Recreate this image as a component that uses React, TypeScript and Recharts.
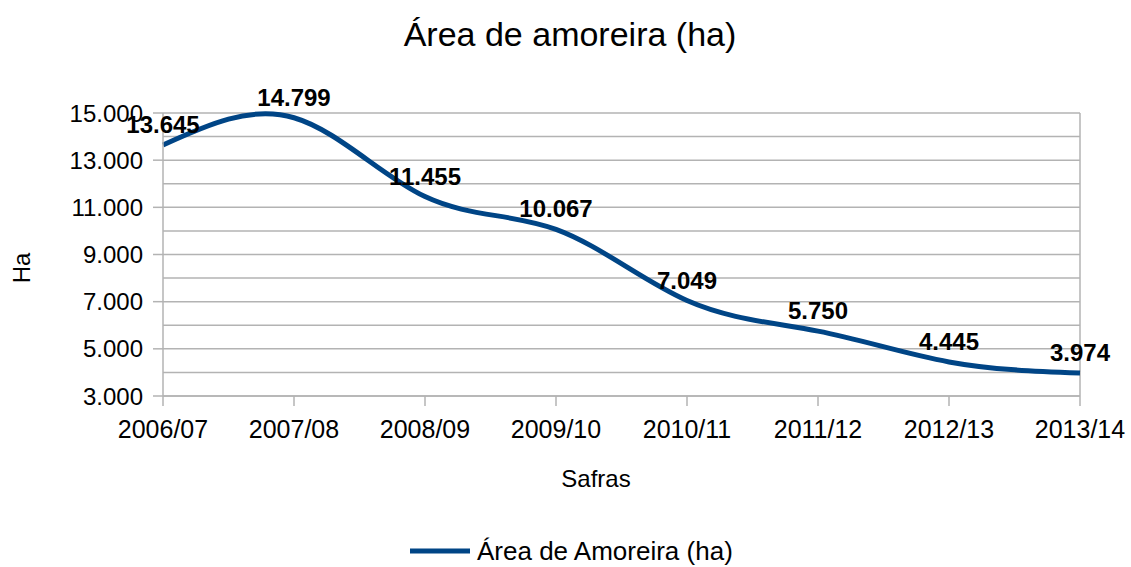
import { LineChart, Line, XAxis, YAxis, CartesianGrid, LabelList, ReferenceLine } from "recharts";

const safras = ["2006/07", "2007/08", "2008/09", "2009/10", "2010/11", "2011/12", "2012/13", "2013/14"];
const area = [13645, 14799, 11455, 10067, 7049, 5750, 4445, 3974];
const yTicks = [3000, 5000, 7000, 9000, 11000, 13000, 15000];
const gridValues = [3000, 4000, 5000, 6000, 7000, 8000, 9000, 10000, 11000, 12000, 13000, 14000, 15000];

const dados = safras.map((s, i) => ({ safra: s, area: area[i] }));

const font = "'Liberation Sans', Arial, sans-serif";
const gray = "#b3b3b3";
const blue = "#004586";

const fmt = (v: number) => v.toLocaleString("de-DE");

export default function App() {
  return (
    <div style={{ position: "absolute", left: 0, top: 0, width: 1131, height: 567, background: "#fff", fontFamily: font }}>
      <div style={{ position: "absolute", left: 570, top: 34, transform: "translate(-50%, -50%)", whiteSpace: "nowrap", fontSize: 34, color: "#000" }}>
        Área de amoreira (ha)
      </div>
      <LineChart width={1131} height={567} data={dados} margin={{ top: 113, right: 51, bottom: 131, left: 0 }}>
        <CartesianGrid stroke={gray} strokeWidth={1.5} vertical={false} horizontalValues={gridValues} />
        <XAxis
          dataKey="safra"
          height={40}
          tick={{ fill: "#000", fontSize: 25, fontFamily: font }}
          tickSize={10}
          tickMargin={14}
          axisLine={{ stroke: gray, strokeWidth: 1.5 }}
          tickLine={{ stroke: gray, strokeWidth: 1.5 }}
        />
        <YAxis
          width={163}
          domain={[3000, 15000]}
          ticks={yTicks}
          tickFormatter={fmt}
          tick={{ fill: "#000", fontSize: 24, fontFamily: font }}
          tickSize={10}
          tickMargin={10}
          axisLine={{ stroke: gray, strokeWidth: 1.5 }}
          tickLine={{ stroke: gray, strokeWidth: 1.5 }}
        />
        <ReferenceLine x="2013/14" stroke={gray} strokeWidth={1.5} />
        <Line type="natural" dataKey="area" stroke={blue} strokeWidth={5} dot={false} isAnimationActive={false}>
          <LabelList
            dataKey="area"
            position="top"
            offset={12}
            formatter={(v: any) => fmt(Number(v))}
            style={{ fill: "#000", fontSize: 24, fontWeight: 700, fontFamily: font }}
          />
        </Line>
      </LineChart>
      <div style={{ position: "absolute", left: 22, top: 268, transform: "translate(-50%, -50%) rotate(-90deg)", fontSize: 24, color: "#000" }}>
        Ha
      </div>
      <div style={{ position: "absolute", left: 596, top: 479, transform: "translate(-50%, -50%)", fontSize: 24, color: "#000" }}>
        Safras
      </div>
      <div style={{ position: "absolute", left: 410, top: 551, transform: "translateY(-50%)", display: "flex", alignItems: "center", whiteSpace: "nowrap" }}>
        <div style={{ width: 60, height: 5, background: blue, marginRight: 7 }} />
        <span style={{ fontSize: 26, color: "#000" }}>Área de Amoreira (ha)</span>
      </div>
    </div>
  );
}
